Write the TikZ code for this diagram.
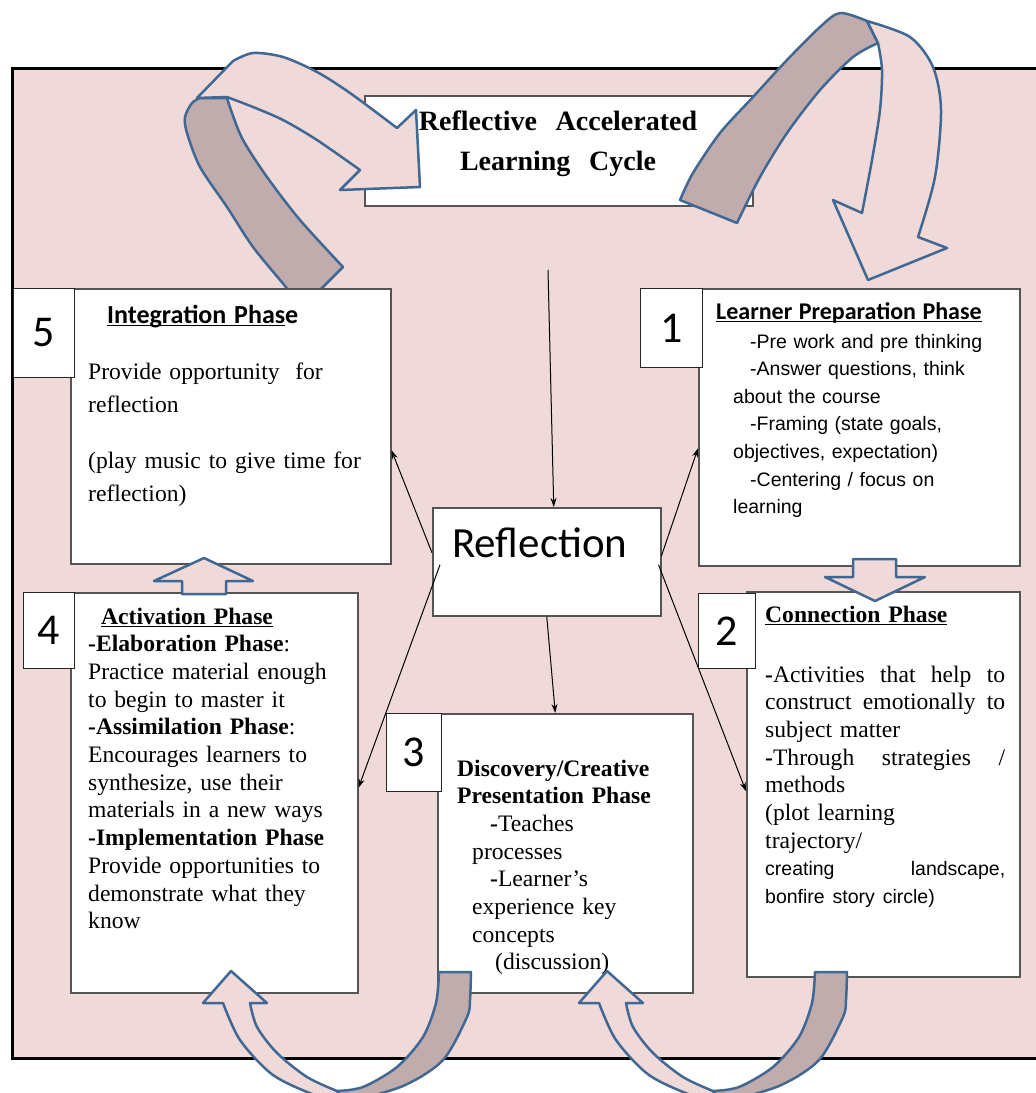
\documentclass[tikz,border=0pt]{standalone}
\usepackage{fontspec}
\setmainfont{Liberation Serif}
\newfontfamily\calibri{Carlito}
\newfontfamily\arial{Liberation Sans}
\usetikzlibrary{arrows.meta,positioning}

\definecolor{bgpink}{RGB}{240,217,217}
\definecolor{banddark}{RGB}{192,172,172}
\definecolor{bandblue}{RGB}{64,104,146}
\definecolor{boxgray}{RGB}{85,85,85}

\newcommand\phaseul[1]{\setbox0=\hbox{#1}\rlap{\rule[-3pt]{\wd0}{1.3pt}}\box0}

\tikzset{
  phasebox/.style={draw=boxgray, line width=1.5pt, fill=white, anchor=north west, inner sep=0pt},
  numbox/.style={draw=black!85, line width=1pt, fill=white, anchor=north west, inner sep=0pt, font=\calibri\fontsize{44}{44}\selectfont},
  phasetext/.style={anchor=base west, inner sep=0pt, align=left, font=\fontsize{23.6}{27.7}\selectfont},
  bandlight/.style={draw=bandblue, line width=2.5pt, line join=round, fill=bgpink},
  banddark/.style={draw=bandblue, line width=2.5pt, line join=round, fill=banddark},
  link/.style={-{Stealth[length=9pt,width=6pt]}, line width=1pt}
}

\begin{document}
\begin{tikzpicture}[x=1pt,y=-1pt]
\useasboundingbox (0,0) rectangle (1036,1093);
\fill[bgpink] (12,68) rectangle (1036,1058);
\draw[line width=3pt] (1036,68) -- (12,68) -- (12,1058) -- (1036,1058);

% title
\node[phasebox, minimum width=388, minimum height=110] (title) at (364,95) {};
\node[anchor=base, inner sep=0pt, text width=388, align=center, font=\bfseries\fontsize{28}{40}\selectfont] (titletext) at (558,130) {Reflective\ \ Accelerated\\Learning\ \ Cycle};

% curved arrows on top
\draw[banddark] (343,267) -- (318,292) -- plot[smooth] coordinates {(292,296) (285,286) (253,247) (227,207) (200,167) (187,133) (185,117) (192,103) (200,98)}
  -- plot[smooth] coordinates {(227,98) (232,113) (243,140) (267,177) (300,220) (343,267)} -- cycle;
\draw[bandlight] (197,98) -- plot[smooth] coordinates {(233,61) (253,53) (283,57) (317,72) (350,93) (397,128)}
  -- (416,110) -- (420,187) -- (340,190) -- plot[smooth] coordinates {(360,170) (317,140) (283,120) (253,107) (227,97)} -- cycle;
\draw[banddark] plot[smooth] coordinates {(680,200) (693,173) (720,133) (753,97) (787,60) (820,27) (840,13) (867,21)}
  -- plot[smooth] coordinates {(878,43) (853,57) (820,90) (787,133) (760,177) (737,223)} -- cycle;
\draw[bandlight] plot[smooth] coordinates {(867,21) (910,37) (933,67) (941,110) (935,177) (918,237)}
  -- (947,248) -- (868,280) -- (833,200) -- plot[smooth] coordinates {(862,213) (872,160) (880,110) (882,70) (878,43)} -- cycle;

% phase boxes
\node[phasebox, minimum width=320, minimum height=275] (integ) at (70,288) {};
\node[phasebox, minimum width=321, minimum height=277] (prep) at (698,288) {};
\node[phasebox, minimum width=287, minimum height=400] (activ) at (70,592) {};
\node[phasebox, minimum width=255, minimum height=279] (disc) at (437,713) {};
\node[phasebox, minimum width=273, minimum height=385] (conn) at (746,591) {};
\node[phasebox, minimum width=228, minimum height=108] (refl) at (432,507) {};

\node[numbox, minimum width=61, minimum height=89] (n5) at (13,288) {5};
\node[numbox, minimum width=62, minimum height=79] (n1) at (640,288) {1};
\node[numbox, minimum width=51, minimum height=76] (n4) at (23,592) {4};
\node[numbox, minimum width=55, minimum height=78] (n3) at (386,713) {3};
\node[numbox, minimum width=57, minimum height=75] (n2) at (698,593) {2};

% texts
\node[phasetext, text width=290, font=\fontsize{23.6}{33}\selectfont] (integtext) at (88,323)
  {\hspace*{19pt}{\calibri\bfseries\fontsize{26}{33}\selectfont\phaseul{Integration Phas}e}\\[23pt]
   Provide opportunity\ \ for\\ reflection\\[23pt]
   (play music to give time for\\ reflection)};
\node[phasetext, text width=295, font=\arial\fontsize{19.5}{27.6}\selectfont] (preptext) at (716,319)
  {{\calibri\bfseries\fontsize{24}{27.6}\selectfont\phaseul{Learner Preparation Phase}}\\[1.5pt]
   \hspace*{34pt}-Pre work and pre thinking\\
   \hspace*{34pt}-Answer questions, think\\
   \hspace*{17pt}about the course\\
   \hspace*{34pt}-Framing (state goals,\\
   \hspace*{17pt}objectives, expectation)\\
   \hspace*{34pt}-Centering / focus on\\
   \hspace*{17pt}learning};
\node[phasetext, text width=265] (activtext) at (88,624)
  {\hspace*{13pt}\textbf{\phaseul{Activation Phase}}\\
   \textbf{-Elaboration Phase}:\\ Practice material enough\\ to begin to master it\\
   \textbf{-Assimilation Phase}:\\ Encourages learners to\\ synthesize, use their\\ materials in a new ways\\
   \textbf{-Implementation Phase}\\ Provide opportunities to\\ demonstrate what they\\ know};
\node[phasetext, text width=225] (disctext) at (457,776)
  {\textbf{Discovery/Creative}\\ \textbf{Presentation Phase}\\
   \hspace*{33pt}\textbf{-}Teaches\\ \hspace*{15pt}processes\\
   \hspace*{33pt}\textbf{-}Learner's\\ \hspace*{15pt}experience key\\ \hspace*{15pt}concepts\\
   \hspace*{38pt}(discussion)};
\node[phasetext, text width=240] (conntext) at (765,622)
  {\textbf{\phaseul{Connection Phase}}\\[32.3pt]
   \textbf{-}Activities\hfill that\hfill help\hfill to\\ construct\hfill emotionally\hfill to\\ subject matter\\
   \textbf{-}Through\hfill strategies\hfill /\\ methods\\ (plot learning\\ trajectory/\\
   {\arial\fontsize{19.5}{27.7}\selectfont creating\hfill landscape,}\\
   {\arial\fontsize{19.5}{27.7}\selectfont bonfire story circle)}};
\node[anchor=base west, inner sep=0pt, font=\calibri\fontsize{43}{43}\selectfont] (refltext) at (452,557) {Reflection};

% block arrows
\draw[bandlight] (182,594) -- (182,581) -- (154,581) -- (204,558) -- (253,581) -- (226,581) -- (226,594) -- cycle;
\draw[bandlight] (853,559) -- (896,559) -- (896,577) -- (925,577) -- (875,601) -- (825,577) -- (853,577) -- cycle;

% bottom u-turn arrows
\begin{scope}
\clip (0,0) rectangle (1036,1093);
\foreach \dx in {0,376} {
\begin{scope}[xshift=\dx]
\draw[banddark] (439,972) -- (471,972) -- plot[smooth] coordinates {(471,972) (470,1000) (467,1017) (443,1060) (403,1086) (345,1103)}
  -- plot[smooth] coordinates {(337,1091) (363,1087) (397,1067) (423,1037) (436,1003) (439,972)} -- cycle;
\draw[bandlight] plot[smooth] coordinates {(345,1103) (317,1096) (273,1075) (240,1040) (223,1003)}
  -- (203,1003) -- (231,971) -- (267,1003) -- plot[smooth] coordinates {(250,1003) (257,1027) (277,1053) (307,1077) (337,1091)} -- cycle;
\end{scope}
}
\end{scope}

% links
\coordinate (topend) at (548,270);
\draw[link] (topend) -- ([xshift=7]refl.north);
\draw[link] ([yshift=9]refl.west) -- ([yshift=-24]integ.east);
\draw[link] ([xshift=8,yshift=-3]refl.west) -- ([yshift=5]activ.east);
\draw[link] ([yshift=6]refl.east) -- ([yshift=-21]prep.west);
\draw[link] ([xshift=-3,yshift=-3]refl.east) -- ([yshift=-7]conn.west);
\draw[link] (refl.south) -- ([xshift=-10]disc.north);
\end{tikzpicture}
\end{document}
